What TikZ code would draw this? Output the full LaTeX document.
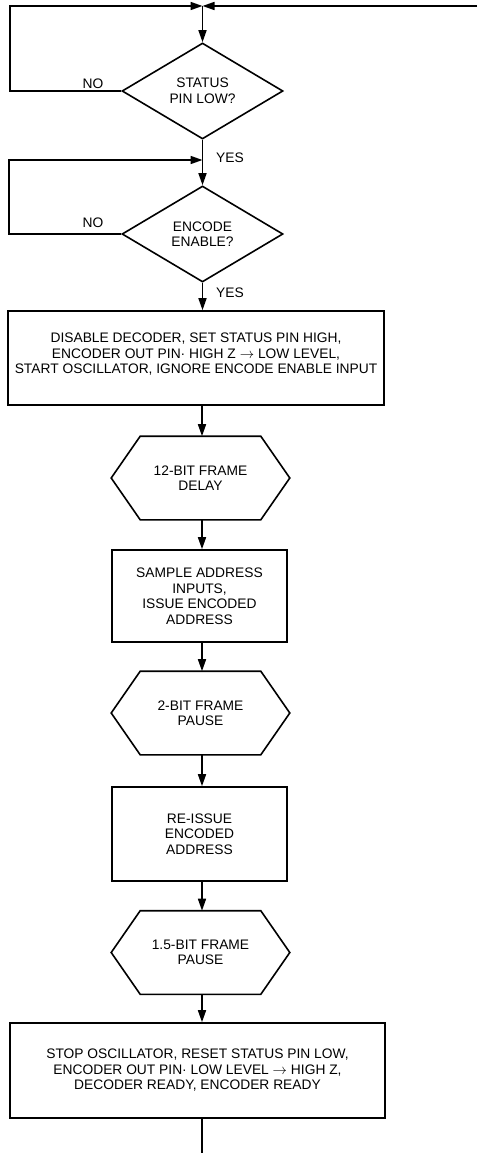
\documentclass[tikz,border=0pt]{standalone}
\usepackage{fontspec}
\setmainfont{Liberation Sans}
\usetikzlibrary{shapes.geometric,arrows.meta}

\begin{document}
\begin{tikzpicture}[x=1pt,y=-1pt,line width=1.6pt,
  font=\fontsize{13.8}{15.5}\selectfont,
  >={Triangle[length=12pt,width=8pt]},
  test/.style={diamond,draw,minimum width=161pt,minimum height=96pt,inner sep=0pt,align=center},
  stepbox/.style={rectangle,draw,inner sep=0pt,align=center},
  waitbox/.style={inner sep=0pt,minimum width=177pt,minimum height=82pt,align=center},
  tag/.style={inner sep=0pt}]

\useasboundingbox (0,0) rectangle (477,1153);

\coordinate (top) at (202.5,6);
\coordinate (back) at (477,6);
\coordinate (lft1) at (10,91);
\coordinate (lft2) at (9,234);
\coordinate (mid) at (202.5,160);
\coordinate (ax) at (202,0);
\coordinate (exit) at (202,1153);

\node[test] (st) at (202.5,91) {STATUS\\PIN LOW?};
\node[test] (en) at (202.5,234) {ENCODE\\ENABLE?};
\node[stepbox,minimum width=376pt,minimum height=94pt] (go) at (196,358)
  {DISABLE DECODER, SET STATUS PIN HIGH,\\
   ENCODER OUT PIN· HIGH Z $\rightarrow$ LOW LEVEL,\\
   START OSCILLATOR, IGNORE ENCODE ENABLE INPUT\\[-6pt]\mbox{}};
\node[waitbox] (d12) at (200.5,478) {12-BIT FRAME\\DELAY};
\node[stepbox,minimum width=175pt,minimum height=92pt] (smp) at (199.5,596)
  {SAMPLE ADDRESS\\INPUTS,\\ISSUE ENCODED\\ADDRESS};
\node[waitbox] (p2) at (200.5,713) {2-BIT FRAME\\PAUSE};
\node[stepbox,minimum width=175pt,minimum height=94pt] (re) at (199.5,834)
  {RE-ISSUE\\ENCODED\\ADDRESS};
\node[waitbox] (p15) at (200.5,952.5) {1.5-BIT FRAME\\PAUSE};
\node[stepbox,minimum width=375pt,minimum height=95pt] (stop) at (197.5,1070.5)
  {STOP OSCILLATOR, RESET STATUS PIN LOW,\\
   ENCODER OUT PIN· LOW LEVEL $\rightarrow$ HIGH Z,\\
   DECODER READY, ENCODER READY};

% hexagons round the wait nodes
\foreach \h in {d12,p2,p15}
  \draw (\h.west) -- ([xshift=29pt]\h.north west) -- ([xshift=-29pt]\h.north east)
    -- (\h.east) -- ([xshift=-29pt]\h.south east) -- ([xshift=29pt]\h.south west) -- cycle;

\node[tag] (no1) at (93,84) {NO};
\node[tag] (no2) at (93,223) {NO};
\node[tag] (yes1) at (230,157.5) {YES};
\node[tag] (yes2) at (230,292.5) {YES};

% loops back
\draw[->] (back) -- (top);
\draw[->] (st.west) -- (lft1) |- (top);
\draw[->] (top) -- (st.north);
\draw[->] (st.south) -- (en.north);
\draw[->] (en.west) -- (lft2) |- (mid);

\draw[->] (en.south) -- (en.south |- go.north);
\foreach \a/\b in {go/d12,d12/smp,smp/p2,p2/re,re/p15,p15/stop}
  \draw[->] (ax |- \a.south) -- (ax |- \b.north);
\draw (ax |- stop.south) -- (exit);

\end{tikzpicture}
\end{document}
